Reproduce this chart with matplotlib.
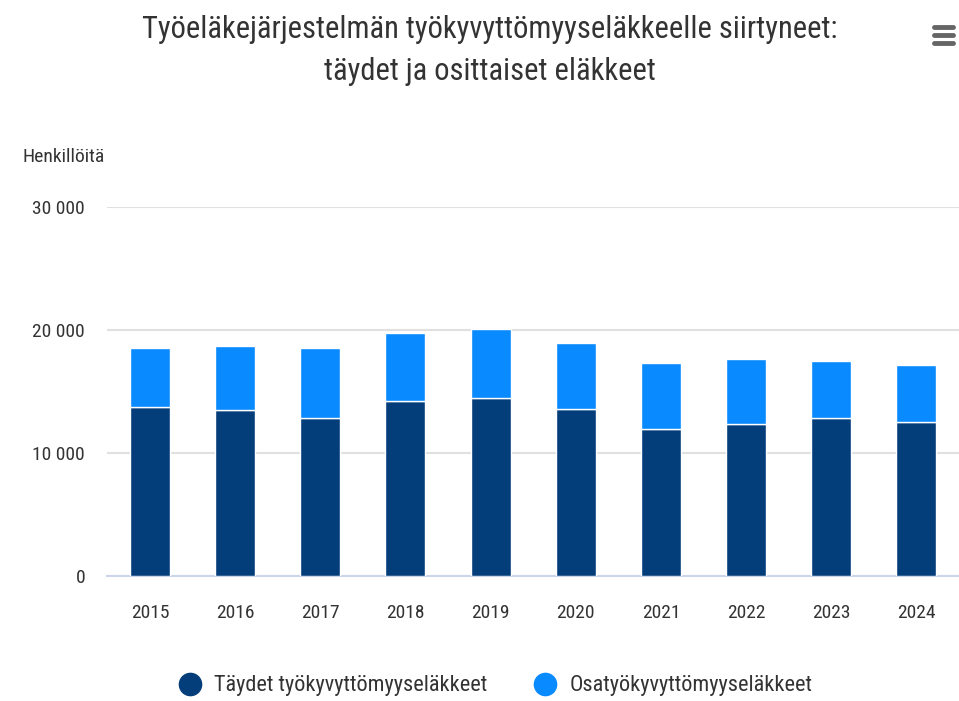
import matplotlib
matplotlib.use("Agg")
import matplotlib.pyplot as plt
from matplotlib import font_manager as fm

years = ["2015", "2016", "2017", "2018", "2019", "2020", "2021", "2022", "2023", "2024"]
full = [13740, 13500, 12870, 14230, 14450, 13550, 11970, 12330, 12870, 12500]
partial = [4800, 5220, 5640, 5500, 5650, 5370, 5350, 5310, 4630, 4680]
series_names = ["Täydet työkyvyttömyyseläkkeet", "Osatyökyvyttömyyseläkkeet"]
yticks = [0, 10000, 20000, 30000]
ytick_labels = ["0", "10 000", "20 000", "30 000"]

names = {f.name for f in fm.fontManager.ttflist}
fam = "DejaVu Sans"
for cand in ["Roboto Condensed", "Fira Sans Condensed", "Open Sans Condensed", "Archivo Narrow"]:
    if cand in names:
        fam = cand
        break
plt.rcParams["font.family"] = [fam, "DejaVu Sans"]

dark = "#043e7a"
light = "#0a8aff"
txt = "#333333"

fig = plt.figure(figsize=(9.59, 7.01), dpi=100)
ax = fig.add_axes([107.3 / 959, 1 - 576 / 701, (959 - 107.3) / 959, (576 - 207) / 701])

x = list(range(len(years)))
ax.bar(x, full, width=0.47, color=dark, edgecolor="white", linewidth=1, zorder=3)
ax.bar(x, partial, bottom=full, width=0.47, color=light, edgecolor="white", linewidth=1, zorder=3)

ax.set_xlim(-0.5, len(years) - 0.5)
ax.set_ylim(0, 30000)
ax.set_yticks(yticks)
ax.set_yticklabels(ytick_labels)
ax.set_xticks(x)
ax.set_xticklabels(years)
ax.yaxis.grid(True, color="#e0e0e0", linewidth=1.5, zorder=0)
ax.set_axisbelow(True)
for s in ["top", "right", "left"]:
    ax.spines[s].set_visible(False)
ax.spines["bottom"].set_color("#ccd6eb")
ax.spines["bottom"].set_linewidth(1.5)
ax.tick_params(axis="both", length=0, labelsize=14, colors=txt)
ax.tick_params(axis="y", pad=16)
ax.tick_params(axis="x", pad=20)

fig.text(490 / 959, 1 - 30 / 701, "Työeläkejärjestelmän työkyvyttömyyseläkkeelle siirtyneet:",
         ha="center", va="center", fontsize=22, color=txt)
fig.text(490 / 959, 1 - 72 / 701, "täydet ja osittaiset eläkkeet",
         ha="center", va="center", fontsize=22, color=txt)
fig.text(22 / 959, 1 - 157 / 701, "Henkillöitä", ha="left", va="center", fontsize=14, color=txt)

# hamburger menu icon
for dy in (-8, 0, 8):
    fig.add_artist(plt.Line2D([934 / 959, 953 / 959], [1 - (35 + dy) / 701] * 2,
                              color="#666666", linewidth=3.5, solid_capstyle="round"))

handles = [plt.Line2D([], [], marker="o", linestyle="", markersize=16, color=c) for c in (dark, light)]
fig.legend(handles, series_names, loc="center", bbox_to_anchor=(490 / 959, 1 - 686 / 701),
           ncol=2, frameon=False, fontsize=16, handletextpad=0.1, columnspacing=1.6,
           labelcolor=txt)

fig.savefig("out.png", dpi=100)
